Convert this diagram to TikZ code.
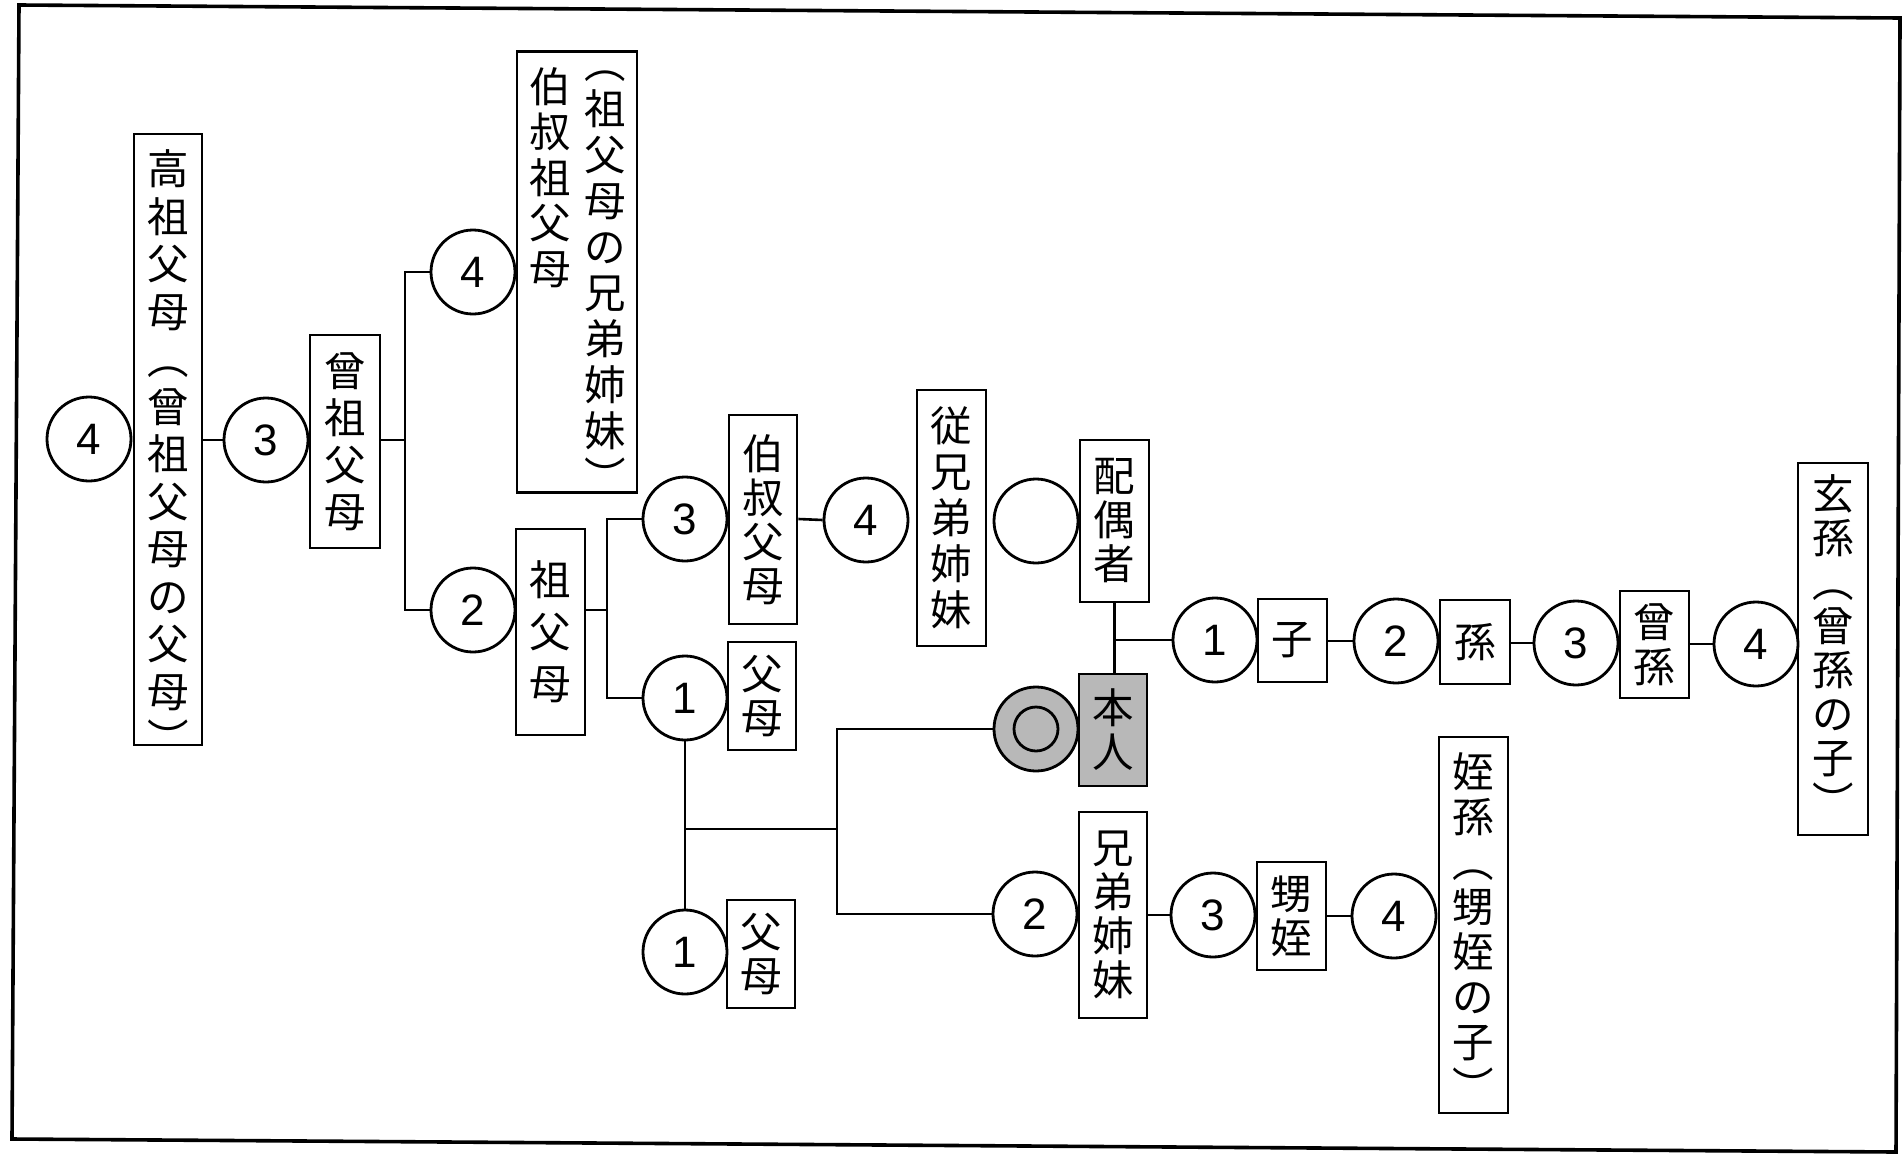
\documentclass[tikz,border=0pt]{standalone}
\usepackage{fontspec}
\setmainfont{Liberation Sans}
\newfontfamily\jpfam{Noto Sans CJK JP}
\newcommand\jpsize[1]{\fontsize{41.5pt}{#1pt}\selectfont\jpfam}
% width, height, inner position, pitch, content
\newcommand\vtext[5]{\parbox[c][#2pt][#3]{#1pt}{\jpsize{#4}\centering #5\par}}
\definecolor{scr}{gray}{0.72}
\begin{document}
\begin{tikzpicture}[x=1pt,y=-1pt,
  ln/.style={line width=2.6pt},
  num/.style={circle,draw,line width=2.8pt,minimum size=84pt,inner sep=0pt,
    font=\fontsize{44pt}{44pt}\selectfont},
  vbox/.style={draw,line width=2.8pt,inner sep=0pt},
]
\useasboundingbox (0,0) rectangle (1903,1154);
\fill[white] (0,0) rectangle (1903,1154);
\draw[line width=3.6pt,line join=miter] (19,5) -- (1900,18) -- (1896,1152) -- (12,1139) -- cycle;

% ---- ancestors ----
\node[num] (L4) at (89,439) {4};
\node[vbox] (gaoso) at (168,439.5) {\vtext{68}{611}{t}{47.5}{\vspace*{16pt}高\\祖\\父\\母\\︵\\曾\\祖\\父\\母\\の\\父\\母\\︶}};
\node[num] (C3a) at (266,440) {3};
\node[vbox] (sozo) at (345,441.5) {\vtext{70}{213}{c}{47}{曾\\祖\\父\\母}};
\node[num] (C4t) at (473,272) {4};
\node[vbox] (hakuso) at (577,272) {\parbox[c][441pt][t]{120pt}{\jpsize{45}\vspace*{4pt}\hspace*{8pt}%
  \begin{minipage}[t]{50pt}\vspace*{12pt}\jpsize{45.5}\centering 伯\\叔\\祖\\父\\母\end{minipage}%
  \hspace*{4pt}%
  \begin{minipage}[t]{52pt}\vspace*{15pt}\jpsize{46}\centering ︵\\祖\\父\\母\\の\\兄\\弟\\姉\\妹\\︶\end{minipage}}};
\node[num] (C2) at (473,610) {2};
\node[vbox] (sofu) at (550.5,632) {\vtext{69}{206}{c}{52}{祖\\父\\母}};
\node[num] (C3b) at (685,519) {3};
\node[vbox] (haku) at (763,519.5) {\vtext{68}{209}{c}{44}{伯\\叔\\父\\母}};
\node[num] (C4b) at (866,520) {4};
\node[vbox] (itoko) at (951.5,518) {\vtext{69}{256}{c}{46}{従\\兄\\弟\\姉\\妹}};
\node[num] (E) at (1036,521) {};
\node[vbox] (haigu) at (1114.5,521) {\vtext{69}{162}{c}{44}{配\\偶\\者}};
\node[num] (C1u) at (685,698) {1};
\node[vbox] (fubo1) at (762,696) {\vtext{68}{108}{c}{44}{父\\母}};
\node[num] (C1l) at (685,952) {1};
\node[vbox] (fubo2) at (761,954) {\vtext{68}{108}{c}{44}{父\\母}};

% ---- self ----
\node[num,fill=scr] (self) at (1036,729) {};
\draw[line width=2.8pt,fill=scr] (self.center) circle (22);
\node[vbox,fill=scr] (honnin) at (1113,730) {\vtext{68}{112}{c}{44}{本\\人}};

% ---- descendants ----
\node[num] (C1c) at (1215,640) {1};
\node[vbox] (ko) at (1292.5,640.5) {\vtext{69}{83}{c}{44}{子}};
\node[num] (C2c) at (1396,641) {2};
\node[vbox] (mago) at (1475,642) {\vtext{70}{84}{c}{44}{孫}};
\node[num] (C3c) at (1576,643) {3};
\node[vbox] (himago) at (1654.5,644.5) {\vtext{69}{107}{c}{45}{曾\\孫}};
\node[num] (C4c) at (1756,644) {4};
\node[vbox] (genson) at (1833,649) {\vtext{70}{372}{t}{44}{\vspace*{12pt}玄\\孫\\︵\\曾\\孫\\の\\子\\︶}};

% ---- siblings ----
\node[num] (C2s) at (1035,914) {2};
\node[vbox] (kyodai) at (1113,915) {\vtext{68}{206}{c}{44}{兄\\弟\\姉\\妹}};
\node[num] (C3s) at (1213,915) {3};
\node[vbox] (oimei) at (1291.5,916) {\vtext{69}{108}{c}{44}{甥\\姪}};
\node[num] (C4s) at (1394,916) {4};
\node[vbox] (tesson) at (1473.5,925) {\vtext{69}{376}{t}{45}{\vspace*{16pt}姪\\孫\\︵\\甥\\姪\\の\\子\\︶}};

% ---- connectors ----
\coordinate (J1) at (405,440);
\coordinate (J2) at (607,610);
\coordinate (J3) at (837,829);
\draw[ln] (gaoso.east |- C3a) -- (C3a.west);
\draw[ln] (sozo.east |- C3a) -- (J1);
\draw[ln] (C4t.west) -| (J1) |- (C2.west);
\draw[ln] (sofu.east |- C2) -- (J2);
\draw[ln] (C3b.west) -| (J2) |- (C1u.west);
\draw[ln] (haku.east |- C3b) -- (C4b.west);
\draw[ln] (haigu.south) -- (haigu.south |- honnin.north);
\draw[ln] (haigu.south |- C1c) -- (C1c.west);
\draw[ln] (ko.east |- C2c) -- (C2c.west);
\draw[ln] (mago.east |- C3c) -- (C3c.west);
\draw[ln] (himago.east |- C4c) -- (C4c.west);
\draw[ln] (C1u.south) -- (C1l.north);
\draw[ln] (C1u.south |- J3) -- (J3);
\draw[ln] (self.west) -| (J3) |- (C2s.west);
\draw[ln] (kyodai.east |- C3s) -- (C3s.west);
\draw[ln] (oimei.east |- C4s) -- (C4s.west);
\end{tikzpicture}
\end{document}
